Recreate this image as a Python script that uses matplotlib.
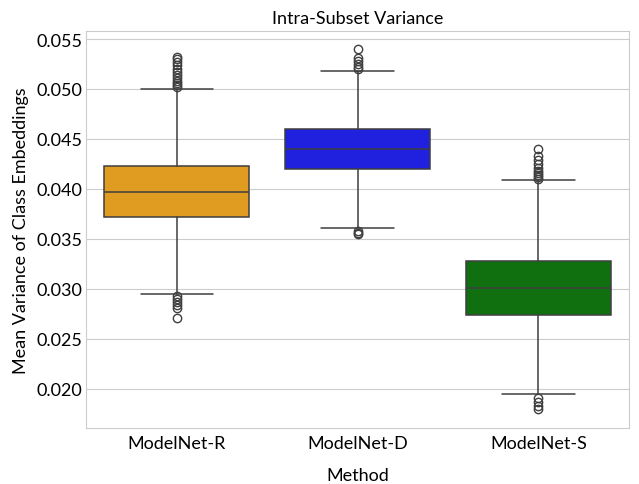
import matplotlib
matplotlib.use("Agg")
import matplotlib.pyplot as plt
import seaborn as sns

# values
methods = ["ModelNet-R", "ModelNet-D", "ModelNet-S"]
colors = ["orange", "blue", "green"]
q1 = [0.0372, 0.0420, 0.0274]
median = [0.0397, 0.0440, 0.0301]
q3 = [0.0423, 0.0460, 0.0328]
whisker_low = [0.0295, 0.0361, 0.0195]
whisker_high = [0.0500, 0.0518, 0.0409]
fliers_r = [0.0502, 0.0504, 0.0506, 0.0508, 0.0511, 0.0514, 0.0517, 0.0520, 0.0524, 0.0527, 0.0530, 0.0532,
            0.0293, 0.0290, 0.0287, 0.0284, 0.0281, 0.0271]
fliers_d = [0.0520, 0.0522, 0.0525, 0.0528, 0.0531, 0.0540,
            0.0358, 0.0356, 0.0355]
fliers_s = [0.0410, 0.0412, 0.0414, 0.0416, 0.0418, 0.0421, 0.0425, 0.0429, 0.0433, 0.0440,
            0.0191, 0.0187, 0.0183, 0.0180]
fliers = [fliers_r, fliers_d, fliers_s]

sns.set_style("whitegrid")
plt.rcParams["font.family"] = ["Lato", "DejaVu Sans"]
plt.rcParams["text.color"] = "black"
plt.rcParams["axes.labelcolor"] = "black"
plt.rcParams["xtick.color"] = "black"
plt.rcParams["ytick.color"] = "black"

stats = []
for i, m in enumerate(methods):
    stats.append({"label": m, "q1": q1[i], "med": median[i], "q3": q3[i],
                  "whislo": whisker_low[i], "whishi": whisker_high[i], "fliers": fliers[i]})

fig, ax = plt.subplots(figsize=(6.39, 4.85), dpi=100)
line_col = "#3f3f3f"
bp = ax.bxp(stats, positions=range(len(methods)), widths=0.8, patch_artist=True,
            boxprops=dict(edgecolor=line_col, linewidth=1.1),
            medianprops=dict(color=line_col, linewidth=1.1),
            whiskerprops=dict(color=line_col, linewidth=1.1),
            capprops=dict(color=line_col, linewidth=1.1),
            flierprops=dict(marker="o", markerfacecolor="none", markeredgecolor=line_col,
                            markersize=6, markeredgewidth=1.0))
for patch, c in zip(bp["boxes"], colors):
    patch.set_facecolor(sns.desaturate(c, 0.75))
    patch.set_zorder(2)

ax.set_xlim(-0.5, 2.5)
ax.set_ylim(0.0161, 0.0558)
ax.set_xticks(range(len(methods)))
ax.set_xticklabels(methods)
ax.tick_params(axis="y", labelsize=13, length=0, pad=3)
ax.tick_params(axis="x", labelsize=13, length=0, pad=5)
ax.set_xlabel("Method", fontsize=13, labelpad=12)
ax.set_ylabel("Mean Variance of Class Embeddings", fontsize=13, labelpad=5)
ax.set_title("Intra-Subset Variance", fontsize=13, pad=6)
ax.xaxis.grid(False)

fig.subplots_adjust(left=0.135, right=0.984, top=0.934, bottom=0.116)
plt.savefig("out.png")
